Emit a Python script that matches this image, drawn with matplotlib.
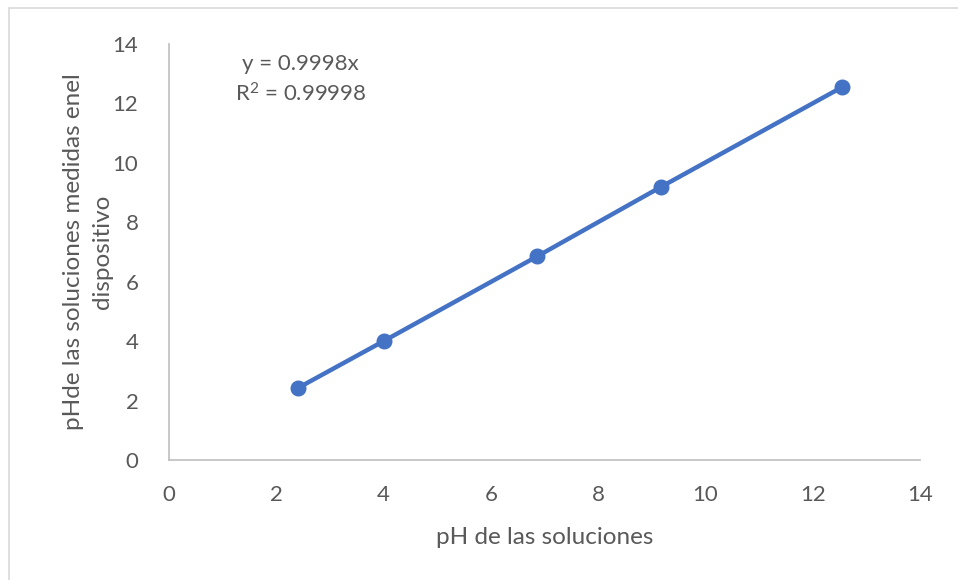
import matplotlib
matplotlib.use("Agg")
import matplotlib.pyplot as plt
from matplotlib.patches import Rectangle
import numpy as np

x_ph = [2.4, 4.0, 6.86, 9.18, 12.54]
y_ph = [2.42, 4.0, 6.85, 9.2, 12.54]
slope = 0.9998
eq_text = "y = 0.9998x\nR$^{2}$ = 0.99998"
xticks = [0, 2, 4, 6, 8, 10, 12, 14]
yticks = [0, 2, 4, 6, 8, 10, 12, 14]
xlabel = "pH de las soluciones"
ylabel = "pHde las soluciones medidas enel\ndispositivo"

plt.rcParams['font.family'] = ['Lato', 'DejaVu Sans']
plt.rcParams['mathtext.fontset'] = 'custom'
plt.rcParams['mathtext.rm'] = 'Lato'
plt.rcParams['mathtext.it'] = 'Lato'
plt.rcParams['mathtext.default'] = 'regular'
gray = '#595959'
blue = '#4472C4'

fig = plt.figure(figsize=(9.58, 5.8), dpi=100)
fig.patches.append(Rectangle((9/958, -0.1), 1.2, (572/580) + 0.1, transform=fig.transFigure,
                             fill=False, edgecolor='#D9D9D9', linewidth=1.2))
ax = fig.add_axes([169/958, 120/580, (920-169)/958, (460-44)/580])

tx = np.array([min(x_ph), max(x_ph)])
ax.plot(tx, slope*tx, linestyle=':', color=blue, linewidth=2, zorder=2)
ax.plot(x_ph, y_ph, '-o', color=blue, linewidth=3.2, markersize=10.5, zorder=3, clip_on=False)

ax.set_xlim(0, 14)
ax.set_ylim(0, 14)
ax.set_xticks(xticks)
ax.set_yticks(yticks)
for s in ['top', 'right']:
    ax.spines[s].set_visible(False)
for s in ['left', 'bottom']:
    ax.spines[s].set_color('#BFBFBF')
    ax.spines[s].set_linewidth(1.2)
ax.tick_params(length=0, labelsize=16, labelcolor=gray)
ax.tick_params(axis='x', pad=18)
ax.tick_params(axis='y', pad=22)
ax.set_xlabel(xlabel, fontsize=17.5, color=gray, labelpad=16)
ax.set_ylabel(ylabel, fontsize=17.5, color=gray, labelpad=0, linespacing=1.45)
ax.text(2.45, 12.8, eq_text, fontsize=16, color=gray, ha='center', va='center', linespacing=1.45)

fig.savefig("out.png", dpi=100)
